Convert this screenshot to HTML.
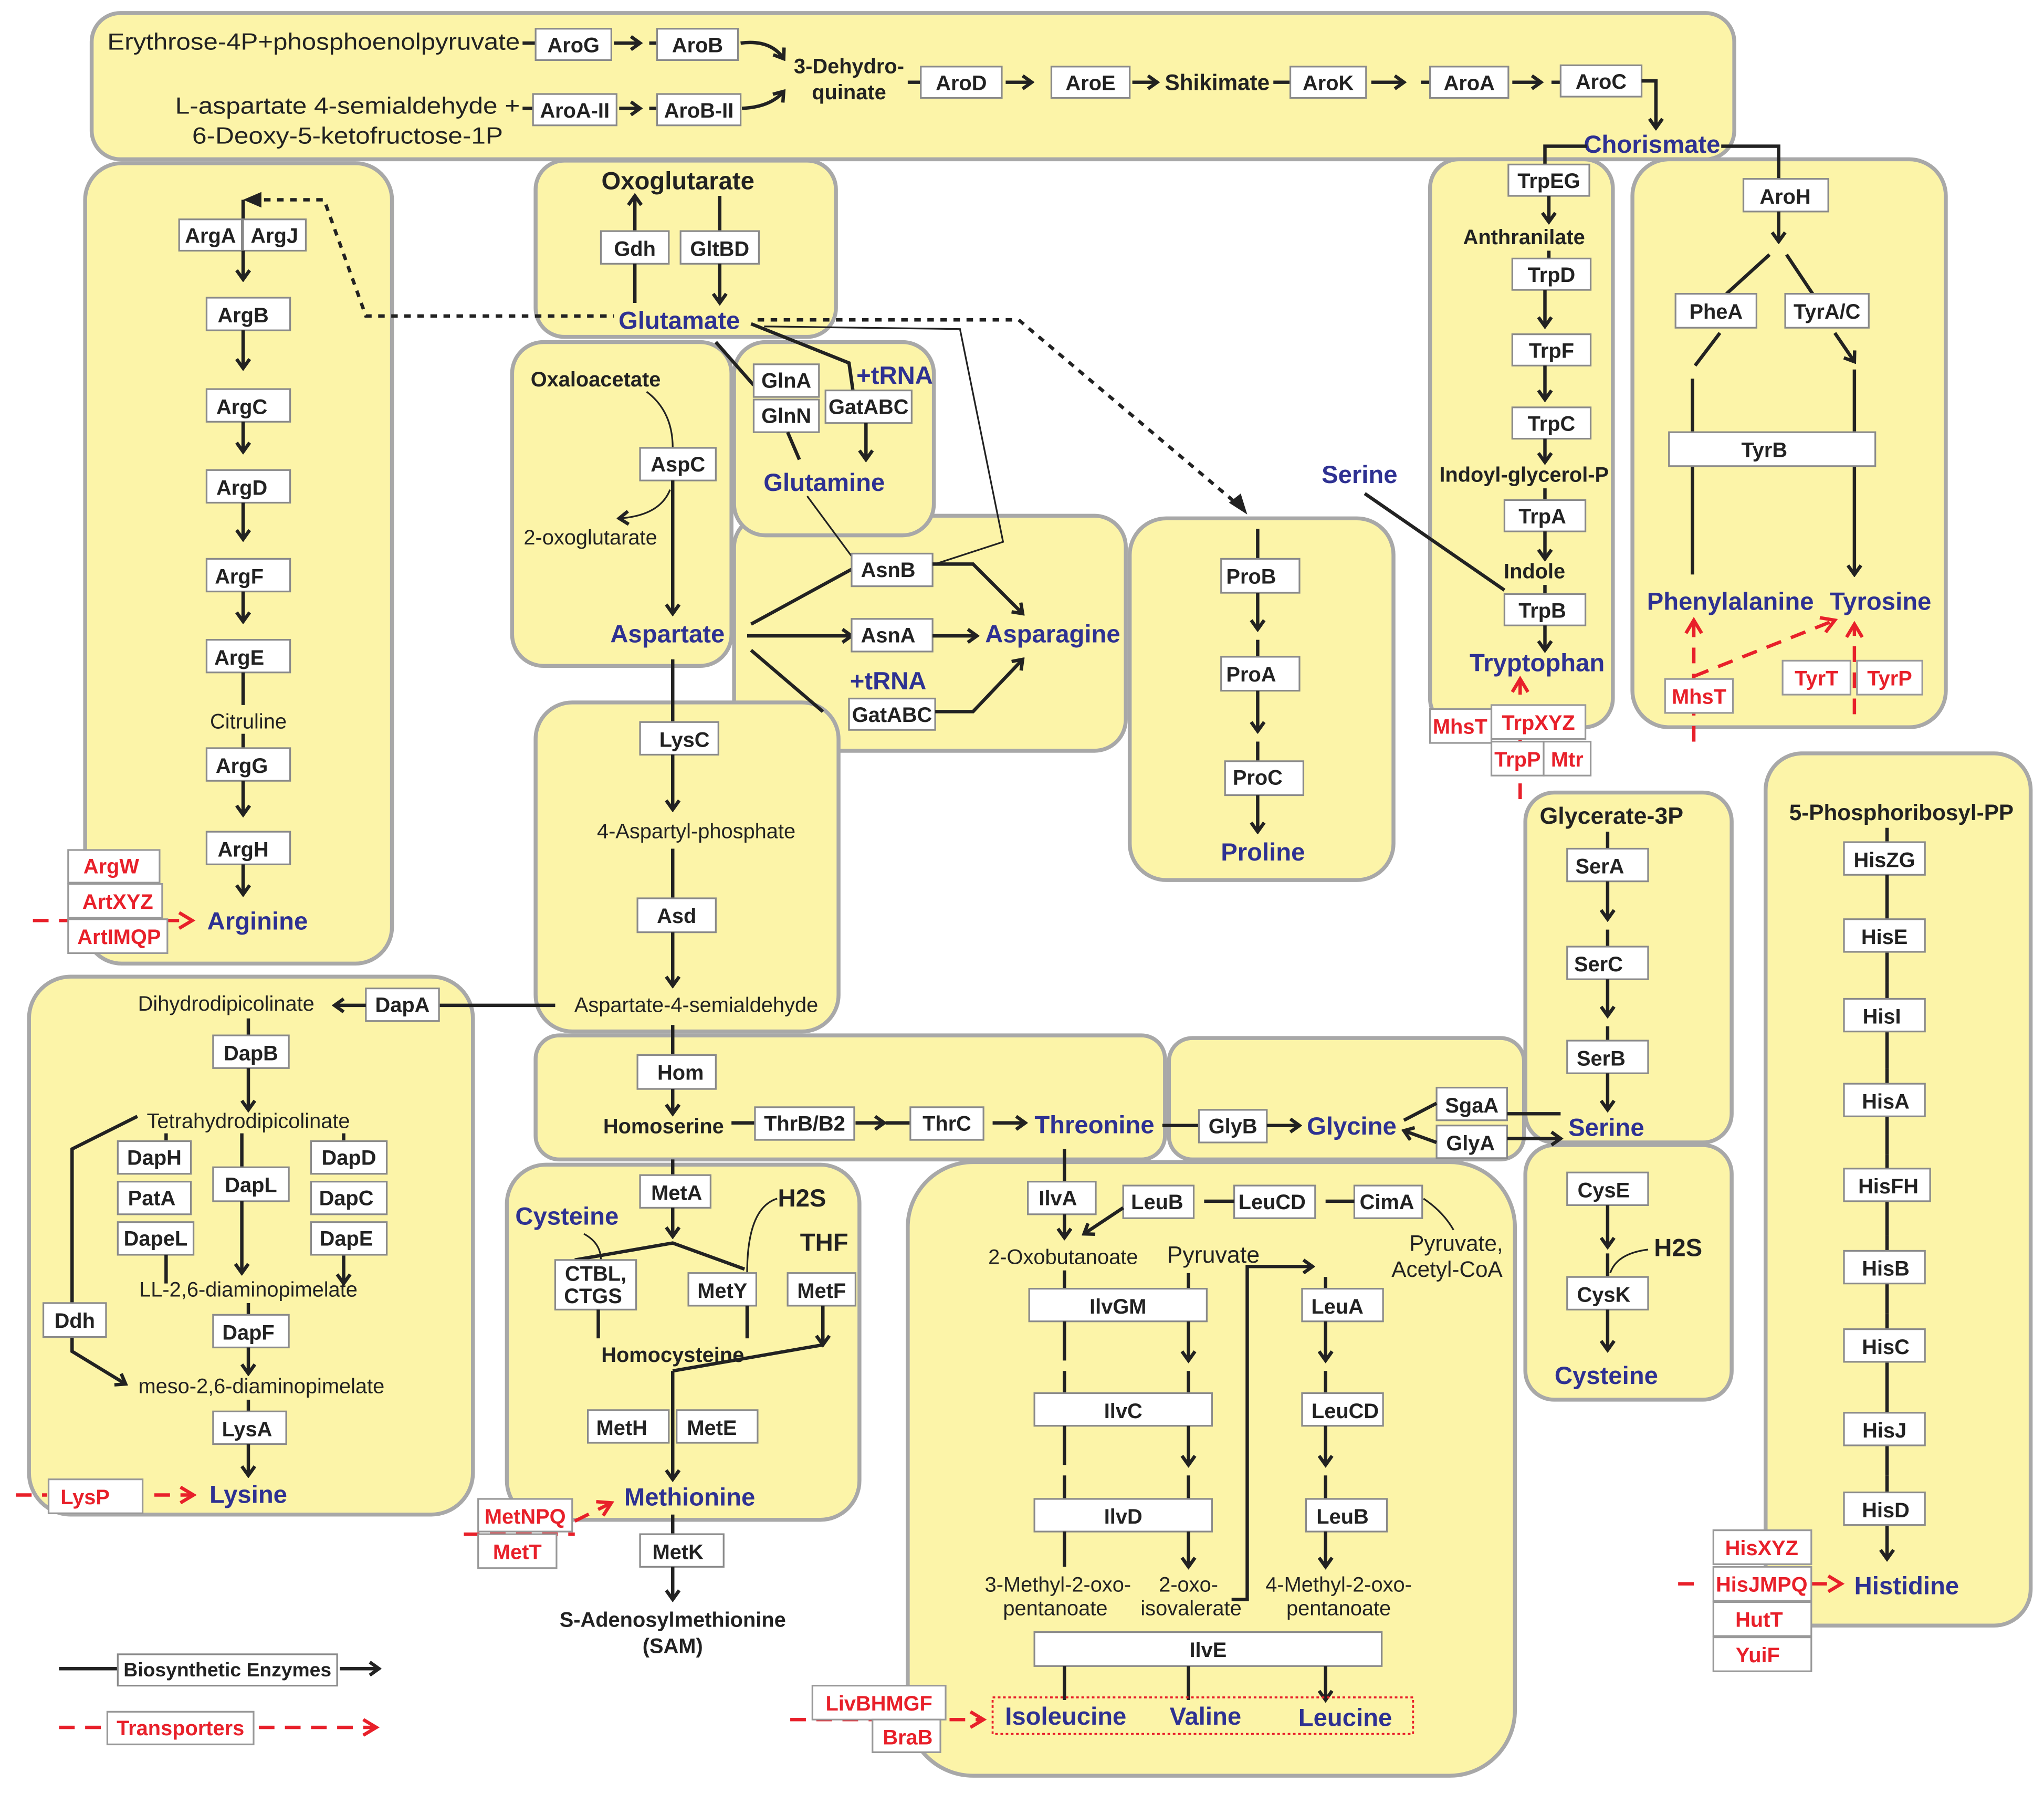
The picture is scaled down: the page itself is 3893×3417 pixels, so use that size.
<!DOCTYPE html>
<html><head><meta charset="utf-8"><style>
html,body{margin:0;padding:0;background:#fff;}
svg{display:block;}
.p{fill:#fcf4a8;stroke:#a8a8a8;stroke-width:3;}
.bx{fill:#fff;stroke:#8a8a8a;stroke-width:1.3;}
.rb{fill:#fff;stroke:#999;stroke-width:1.3;}
text{font-family:"Liberation Sans",sans-serif;}
.t{font-size:16px;font-weight:bold;text-anchor:middle;fill:#222;}
.r{font-size:16px;font-weight:bold;text-anchor:middle;fill:#e8202a;}
.n{font-size:16px;fill:#222;text-anchor:middle;}
.nb{font-size:17px;font-weight:bold;fill:#222;text-anchor:middle;}
.bl{font-size:19px;font-weight:bold;fill:#2e3192;text-anchor:middle;}
.l{stroke:#222;stroke-width:2.6;fill:none;}
.la{stroke:#222;stroke-width:2.6;fill:none;marker-end:url(#a);}
.th{stroke:#222;stroke-width:1.3;fill:none;}
.tha{stroke:#222;stroke-width:1.3;fill:none;marker-end:url(#a);}
.rd{stroke:#e8202a;stroke-width:2.6;fill:none;stroke-dasharray:12,8;}
.rda{stroke:#e8202a;stroke-width:2.6;fill:none;stroke-dasharray:12,8;marker-end:url(#ra);}
.dt{stroke:#222;stroke-width:2.6;fill:none;stroke-dasharray:5,5;}
</style></head><body>
<svg width="3893" height="3417" viewBox="0 0 1565 1374" xmlns="http://www.w3.org/2000/svg">
<defs>
<marker id="a" markerWidth="10" markerHeight="12" refX="8" refY="6" orient="auto" markerUnits="userSpaceOnUse"><path d="M1,1 L8,6 L1,11" fill="none" stroke="#222" stroke-width="2.6"/></marker>
<marker id="ra" markerWidth="14" markerHeight="14" refX="11" refY="7" orient="auto" markerUnits="userSpaceOnUse"><path d="M1,1 L11,7 L1,13" fill="none" stroke="#e8202a" stroke-width="2.6"/></marker>
</defs>
<rect width="1565" height="1374" fill="#fff"/>
<!-- panels -->
<rect class="p" x="70" y="10" width="1258" height="112" rx="22"/>
<rect class="p" x="65" y="125" width="235" height="613" rx="28"/>
<rect class="p" x="410" y="123" width="230" height="135" rx="22"/>
<rect class="p" x="392" y="262" width="168" height="248" rx="24"/>
<rect class="p" x="562" y="395" width="300" height="180" rx="24"/>
<rect class="p" x="562" y="262" width="153" height="148" rx="24"/>
<rect class="p" x="410" y="538" width="232" height="252" rx="28"/>
<rect class="p" x="22" y="748" width="340" height="412" rx="32"/>
<rect class="p" x="410" y="793" width="482" height="95" rx="18"/>
<rect class="p" x="895" y="795" width="272" height="93" rx="18"/>
<rect class="p" x="388" y="892" width="270" height="272" rx="30"/>
<rect class="p" x="695" y="890" width="465" height="470" rx="50"/>
<rect class="p" x="865" y="397" width="202" height="277" rx="28"/>
<rect class="p" x="1095" y="122" width="140" height="435" rx="22"/>
<rect class="p" x="1250" y="122" width="240" height="435" rx="28"/>
<rect class="p" x="1168" y="607" width="158" height="268" rx="22"/>
<rect class="p" x="1168" y="877" width="158" height="195" rx="22"/>
<rect class="p" x="1352" y="577" width="203" height="668" rx="28"/>

<!-- TOP -->
<text x="82" y="38" textLength="316" lengthAdjust="spacingAndGlyphs" style="font-size:18px;fill:#222">Erythrose-4P+phosphoenolpyruvate</text>
<text x="134" y="87" textLength="264" lengthAdjust="spacingAndGlyphs" style="font-size:18px;fill:#222">L-aspartate 4-semialdehyde +</text>
<text x="147" y="110" textLength="238" lengthAdjust="spacingAndGlyphs" style="font-size:18px;fill:#222">6-Deoxy-5-ketofructose-1P</text>
<path class="l" d="M400,33 H410 M400,83 H408 M497,33 H503 M497,83 H503 M695,63 H705 M975,63 H988 M1088,63 H1095 M1188,63 H1195"/>
<g><rect class="bx" x="410" y="22" width="58" height="24"/><text class="t" x="439" y="40">AroG</text></g>
<path class="la" d="M470,33 H490"/>
<g><rect class="bx" x="503" y="22" width="62" height="24"/><text class="t" x="534" y="40">AroB</text></g>
<path class="la" d="M567,33 Q590,30 600,45"/>
<g><rect class="bx" x="408" y="72" width="64" height="24"/><text class="t" x="440" y="90">AroA-II</text></g>
<path class="la" d="M474,83 H490"/>
<g><rect class="bx" x="503" y="72" width="64" height="24"/><text class="t" x="535" y="90">AroB-II</text></g>
<path class="la" d="M568,83 Q590,82 600,70"/>
<text class="nb" x="650" y="56" style="font-size:16px">3-Dehydro-</text>
<text class="nb" x="650" y="76" style="font-size:16px">quinate</text>
<g><rect class="bx" x="705" y="51" width="62" height="24"/><text class="t" x="736" y="69">AroD</text></g>
<path class="la" d="M770,63 H790"/>
<g><rect class="bx" x="805" y="51" width="60" height="24"/><text class="t" x="835" y="69">AroE</text></g>
<path class="la" d="M867,63 H886"/>
<text class="nb" x="932" y="69">Shikimate</text>
<g><rect class="bx" x="988" y="51" width="58" height="24"/><text class="t" x="1017" y="69">AroK</text></g>
<path class="la" d="M1050,63 H1075"/>
<g><rect class="bx" x="1095" y="51" width="60" height="24"/><text class="t" x="1125" y="69">AroA</text></g>
<path class="la" d="M1158,63 H1180"/>
<g><rect class="bx" x="1195" y="50" width="62" height="24"/><text class="t" x="1226" y="68">AroC</text></g>
<path class="la" d="M1257,62 H1268 V98"/>
<text class="bl" x="1265" y="117">Chorismate</text>
<path class="l" d="M1215,112 H1183 V126 M1318,112 H1362 V137"/>

<!-- Trp -->
<g><rect class="bx" x="1155" y="126" width="62" height="24"/><text class="t" x="1186" y="144">TrpEG</text></g>
<path class="la" d="M1186,150 V170"/>
<text class="nb" x="1167" y="187" style="font-size:16px">Anthranilate</text>
<path class="l" d="M1186,192 V198"/>
<g><rect class="bx" x="1158" y="198" width="60" height="24"/><text class="t" x="1188" y="216">TrpD</text></g>
<path class="la" d="M1183,222 V250"/>
<g><rect class="bx" x="1158" y="256" width="60" height="24"/><text class="t" x="1188" y="274">TrpF</text></g>
<path class="la" d="M1183,280 V306"/>
<g><rect class="bx" x="1158" y="312" width="60" height="24"/><text class="t" x="1188" y="330">TrpC</text></g>
<path class="la" d="M1183,336 V354"/>
<text class="nb" x="1167" y="369" style="font-size:16px">Indoyl-glycerol-P</text>
<path class="l" d="M1183,374 V383"/>
<g><rect class="bx" x="1152" y="383" width="62" height="24"/><text class="t" x="1181" y="401">TrpA</text></g>
<path class="la" d="M1183,407 V428"/>
<text class="nb" x="1175" y="443" style="font-size:16px">Indole</text>
<path class="l" d="M1183,448 V455"/>
<g><rect class="bx" x="1152" y="455" width="62" height="24"/><text class="t" x="1181" y="473">TrpB</text></g>
<path class="la" d="M1183,479 V498"/>
<text class="bl" x="1177" y="514">Tryptophan</text>
<text class="bl" x="1041" y="370">Serine</text>
<path class="l" d="M1045,378 L1152,452"/>
<path class="rda" d="M1164,612 V520"/>
<g><rect class="rb" x="1095" y="543" width="47" height="26"/><text class="r" x="1118" y="562">MhsT</text></g>
<g><rect class="rb" x="1142" y="540" width="72" height="26"/><text class="r" x="1178" y="559">TrpXYZ</text></g>
<g><rect class="rb" x="1142" y="568" width="40" height="26"/><text class="r" x="1162" y="587">TrpP</text></g>
<g><rect class="rb" x="1182" y="568" width="36" height="26"/><text class="r" x="1200" y="587">Mtr</text></g>

<!-- Phe/Tyr -->
<g><rect class="bx" x="1335" y="137" width="65" height="25"/><text class="t" x="1367" y="156">AroH</text></g>
<path class="la" d="M1362,162 V185"/>
<path class="l" d="M1355,195 L1322,225 M1368,195 L1388,225"/>
<g><rect class="bx" x="1283" y="225" width="62" height="26"/><text class="t" x="1314" y="244">PheA</text></g>
<g><rect class="bx" x="1367" y="225" width="64" height="26"/><text class="t" x="1399" y="244">TyrA/C</text></g>
<path class="la" d="M1317,255 L1298,280 M1405,255 L1420,277"/>
<path class="la" d="M1296,290 V440 M1420,283 V440"/>
<g><rect class="bx" x="1278" y="331" width="158" height="26"/><text class="t" x="1351" y="350">TyrB</text></g>
<text class="bl" x="1325" y="467">Phenylalanine</text>
<text class="bl" x="1440" y="467">Tyrosine</text>
<path class="rda" d="M1297,568 V475"/>
<path class="rda" d="M1297,518 L1405,475"/>
<path class="rda" d="M1420,547 V478"/>
<g><rect class="rb" x="1275" y="520" width="52" height="26"/><text class="r" x="1301" y="539">MhsT</text></g>
<g><rect class="rb" x="1365" y="506" width="52" height="26"/><text class="r" x="1391" y="525">TyrT</text></g>
<g><rect class="rb" x="1422" y="506" width="50" height="26"/><text class="r" x="1447" y="525">TyrP</text></g>

<!-- Arginine -->
<path class="dt" d="M192,153 H248 L280,242 H470"/>
<path d="M186,153 L200,147 L200,159 z" fill="#222"/>
<path class="l" d="M186,153 V168"/>
<g><rect class="bx" x="137" y="168" width="48" height="24"/><text class="t" x="161" y="186">ArgA</text></g>
<g><rect class="bx" x="186" y="168" width="48" height="24"/><text class="t" x="210" y="186">ArgJ</text></g>
<path class="la" d="M186,192 V214"/>
<g><rect class="bx" x="158" y="228" width="64" height="25"/><text class="t" x="186" y="247">ArgB</text></g>
<path class="la" d="M186,253 V282"/>
<g><rect class="bx" x="158" y="298" width="64" height="25"/><text class="t" x="185" y="317">ArgC</text></g>
<path class="la" d="M186,323 V346"/>
<g><rect class="bx" x="158" y="360" width="64" height="25"/><text class="t" x="185" y="379">ArgD</text></g>
<path class="la" d="M186,385 V413"/>
<g><rect class="bx" x="158" y="428" width="64" height="25"/><text class="t" x="183" y="447">ArgF</text></g>
<path class="la" d="M186,453 V476"/>
<g><rect class="bx" x="158" y="490" width="64" height="25"/><text class="t" x="183" y="509">ArgE</text></g>
<path class="l" d="M186,515 V540 M186,562 V573"/>
<text class="n" x="190" y="558">Citruline</text>
<g><rect class="bx" x="158" y="573" width="64" height="25"/><text class="t" x="185" y="592">ArgG</text></g>
<path class="la" d="M186,598 V624"/>
<g><rect class="bx" x="158" y="637" width="64" height="25"/><text class="t" x="186" y="656">ArgH</text></g>
<path class="la" d="M186,662 V685"/>
<text class="bl" x="197" y="712">Arginine</text>
<path class="rda" d="M25,705 H147"/>
<g><rect class="rb" x="52" y="651" width="70" height="25"/><text class="r" x="85" y="669">ArgW</text></g>
<g><rect class="rb" x="52" y="677" width="72" height="26"/><text class="r" x="90" y="696">ArtXYZ</text></g>
<g><rect class="rb" x="52" y="704" width="76" height="26"/><text class="r" x="91" y="723">ArtIMQP</text></g>

<!-- Oxoglutarate / glutamate -->
<text class="nb" x="519" y="145" style="font-size:19px">Oxoglutarate</text>
<path class="la" d="M486,177 V150"/>
<path class="l" d="M551,150 V177"/>
<g><rect class="bx" x="460" y="177" width="52" height="25"/><text class="t" x="486" y="196">Gdh</text></g>
<g><rect class="bx" x="521" y="177" width="60" height="25"/><text class="t" x="551" y="196">GltBD</text></g>
<path class="la" d="M486,202 V232 M551,202 V232"/>
<text class="bl" x="520" y="252">Glutamate</text>
<path class="dt" d="M580,245 H780 L952,390"/>
<path d="M955,394 L941,385 L950,378 z" fill="#222"/>
<path class="th" d="M585,250 L735,252 L768,415 L716,432"/>

<!-- Aspartate panel -->
<text class="nb" x="456" y="296" style="font-size:16px">Oxaloacetate</text>
<path class="th" d="M495,300 Q515,315 515,343"/>
<g><rect class="bx" x="490" y="343" width="58" height="25"/><text class="t" x="519" y="361">AspC</text></g>
<path class="la" d="M515,368 V470"/>
<path class="tha" d="M513,375 Q505,395 474,397"/>
<text class="n" x="452" y="417">2-oxoglutarate</text>
<text class="bl" x="511" y="492">Aspartate</text>

<!-- Glutamine -->
<path class="l" d="M548,262 L577,295"/>
<path class="l" d="M575,248 L650,278 L653,299"/>
<g><rect class="bx" x="577" y="279" width="50" height="25"/><text class="t" x="602" y="297">GlnA</text></g>
<g><rect class="bx" x="577" y="306" width="50" height="25"/><text class="t" x="602" y="324">GlnN</text></g>
<g><rect class="bx" x="632" y="299" width="66" height="25"/><text class="t" x="665" y="317">GatABC</text></g>
<text class="bl" x="685" y="294">+tRNA</text>
<path class="la" d="M603,331 L612,352 M663,324 V352"/>
<text class="bl" x="631" y="376">Glutamine</text>
<path class="th" d="M618,380 L652,426"/>

<!-- Asparagine -->
<path class="l" d="M575,478 L652,436 M575,498 L630,545"/>
<g><rect class="bx" x="652" y="424" width="62" height="25"/><text class="t" x="680" y="442">AsnB</text></g>
<path class="la" d="M572,487 H652"/>
<g><rect class="bx" x="652" y="474" width="62" height="25"/><text class="t" x="680" y="492">AsnA</text></g>
<path class="la" d="M714,487 H748"/>
<text class="bl" x="680" y="528">+tRNA</text>
<g><rect class="bx" x="650" y="535" width="66" height="24"/><text class="t" x="683" y="553">GatABC</text></g>
<path class="la" d="M714,432 H745 L783,470"/>
<path class="la" d="M716,545 H745 L783,505"/>
<text class="bl" x="806" y="492">Asparagine</text>

<!-- Lysine / Asp -->
<path class="l" d="M515,505 V553"/>
<g><rect class="bx" x="490" y="553" width="60" height="25"/><text class="t" x="524" y="572">LysC</text></g>
<path class="la" d="M515,578 V620"/>
<text class="n" x="533" y="642">4-Aspartyl-phosphate</text>
<path class="l" d="M515,650 V688"/>
<g><rect class="bx" x="488" y="688" width="60" height="26"/><text class="t" x="518" y="707">Asd</text></g>
<path class="la" d="M515,714 V755"/>
<text class="n" x="533" y="775">Aspartate-4-semialdehyde</text>
<path class="l" d="M425,770 H336"/>
<g><rect class="bx" x="280" y="757" width="56" height="25"/><text class="t" x="308" y="775">DapA</text></g>
<path class="la" d="M280,770 H256"/>
<text class="n" x="173" y="774">Dihydrodipicolinate</text>
<path class="l" d="M190,780 V793"/>
<g><rect class="bx" x="163" y="793" width="58" height="25"/><text class="t" x="192" y="812">DapB</text></g>
<path class="la" d="M190,818 V850"/>
<text class="n" x="190" y="864">Tetrahydrodipicolinate</text>
<path class="l" d="M127,868 V874 M263,868 V874"/>
<g><rect class="bx" x="90" y="874" width="56" height="25"/><text class="t" x="118" y="892">DapH</text></g>
<g><rect class="bx" x="90" y="905" width="56" height="25"/><text class="t" x="116" y="923">PatA</text></g>
<g><rect class="bx" x="90" y="936" width="58" height="25"/><text class="t" x="119" y="954">DapeL</text></g>
<path class="la" d="M127,961 V983 M263,961 V983"/>
<path class="l" d="M185,868 V894"/>
<g><rect class="bx" x="163" y="894" width="58" height="26"/><text class="t" x="192" y="913">DapL</text></g>
<path class="la" d="M185,920 V975"/>
<g><rect class="bx" x="238" y="874" width="58" height="25"/><text class="t" x="267" y="892">DapD</text></g>
<g><rect class="bx" x="238" y="905" width="58" height="25"/><text class="t" x="265" y="923">DapC</text></g>
<g><rect class="bx" x="238" y="936" width="58" height="25"/><text class="t" x="265" y="954">DapE</text></g>
<text class="n" x="190" y="993">LL-2,6-diaminopimelate</text>
<path class="l" d="M190,998 V1007"/>
<g><rect class="bx" x="163" y="1007" width="58" height="25"/><text class="t" x="190" y="1026">DapF</text></g>
<path class="la" d="M190,1032 V1052"/>
<text class="n" x="200" y="1067">meso-2,6-diaminopimelate</text>
<path class="l" d="M190,1072 V1081"/>
<g><rect class="bx" x="163" y="1081" width="56" height="25"/><text class="t" x="189" y="1100">LysA</text></g>
<path class="la" d="M190,1106 V1130"/>
<text class="bl" x="190" y="1151">Lysine</text>
<path class="la" d="M105,855 L55,880 V1035 L96,1060"/>
<g><rect class="bx" x="33" y="998" width="48" height="26"/><text class="t" x="57" y="1017">Ddh</text></g>
<path class="rd" d="M12,1145 H36"/>
<path class="rda" d="M118,1145 H148"/>
<g><rect class="rb" x="37" y="1133" width="72" height="26"/><text class="r" x="65" y="1152">LysP</text></g>

<!-- Threonine -->
<path class="l" d="M515,785 V808"/>
<g><rect class="bx" x="488" y="808" width="60" height="26"/><text class="t" x="521" y="827">Hom</text></g>
<path class="la" d="M515,834 V853"/>
<text class="nb" x="508" y="868" style="font-size:16px">Homoserine</text>
<path class="l" d="M560,860 H578 M678,860 H697"/>
<g><rect class="bx" x="578" y="848" width="76" height="25"/><text class="t" x="616" y="866">ThrB/B2</text></g>
<path class="la" d="M655,860 H677"/>
<g><rect class="bx" x="697" y="848" width="56" height="25"/><text class="t" x="725" y="866">ThrC</text></g>
<path class="la" d="M760,860 H785"/>
<text class="bl" x="838" y="868">Threonine</text>
<path class="l" d="M890,862 H918"/>
<g><rect class="bx" x="918" y="850" width="52" height="25"/><text class="t" x="944" y="868">GlyB</text></g>
<path class="la" d="M970,862 H995"/>
<text class="bl" x="1035" y="869">Glycine</text>
<g><rect class="bx" x="1100" y="833" width="54" height="25"/><text class="t" x="1127" y="852">SgaA</text></g>
<g><rect class="bx" x="1100" y="862" width="54" height="25"/><text class="t" x="1126" y="881">GlyA</text></g>
<path class="la" d="M1100,845 L1075,858 M1100,875 L1075,866"/>
<path class="l" d="M1154,853 H1195"/>
<path class="la" d="M1154,872 H1195"/>
<text class="bl" x="1230" y="870">Serine</text>

<!-- Methionine -->
<path class="l" d="M515,888 V900"/>
<g><rect class="bx" x="490" y="900" width="54" height="25"/><text class="t" x="518" y="919">MetA</text></g>
<path class="la" d="M515,925 V947"/>
<text class="bl" x="434" y="938">Cysteine</text>
<text class="nb" x="614" y="924" style="font-size:19px">H2S</text>
<text class="nb" x="631" y="958" style="font-size:19px">THF</text>
<path class="th" d="M447,945 Q460,952 460,965"/>
<path class="l" d="M440,965 L515,952 L570,972"/>
<path class="th" d="M595,918 Q572,925 572,975"/>
<g><rect class="bx" x="425" y="965" width="62" height="38"/><text class="t" x="456" y="981">CTBL,</text><text class="t" x="454" y="998">CTGS</text></g>
<g><rect class="bx" x="527" y="975" width="52" height="25"/><text class="t" x="553" y="994">MetY</text></g>
<g><rect class="bx" x="603" y="975" width="52" height="25"/><text class="t" x="629" y="994">MetF</text></g>
<path class="la" d="M458,1003 V1025 M572,1000 V1025 M630,1000 V1030"/>
<text class="nb" x="515" y="1043" style="font-size:16px">Homocysteine</text>
<path class="l" d="M515,1050 L630,1030"/>
<g><rect class="bx" x="450" y="1080" width="62" height="25"/><text class="t" x="476" y="1099">MetH</text></g>
<g><rect class="bx" x="518" y="1080" width="62" height="25"/><text class="t" x="545" y="1099">MetE</text></g>
<path class="la" d="M515,1050 V1133"/>
<text class="bl" x="528" y="1153">Methionine</text>
<path class="rd" d="M355,1175 H440"/>
<path class="rda" d="M440,1165 L468,1151"/>
<g><rect class="rb" x="366" y="1148" width="72" height="25"/><text class="r" x="402" y="1167">MetNPQ</text></g>
<g><rect class="rb" x="366" y="1175" width="60" height="26"/><text class="r" x="396" y="1194">MetT</text></g>
<path class="l" d="M515,1160 V1175"/>
<g><rect class="bx" x="490" y="1175" width="64" height="25"/><text class="t" x="519" y="1194">MetK</text></g>
<path class="la" d="M515,1200 V1225"/>
<text class="nb" x="515" y="1246" style="font-size:16px">S-Adenosylmethionine</text>
<text class="nb" x="515" y="1266" style="font-size:16px">(SAM)</text>

<!-- Ile Val Leu -->
<path class="l" d="M815,880 V905"/>
<g><rect class="bx" x="787" y="905" width="52" height="25"/><text class="t" x="810" y="923">IlvA</text></g>
<path class="la" d="M815,930 V948"/>
<g><rect class="bx" x="860" y="908" width="54" height="25"/><text class="t" x="886" y="926">LeuB</text></g>
<g><rect class="bx" x="945" y="908" width="62" height="25"/><text class="t" x="974" y="926">LeuCD</text></g>
<g><rect class="bx" x="1037" y="908" width="52" height="25"/><text class="t" x="1062" y="926">CimA</text></g>
<path class="la" d="M1037,920 H1015 M945,920 H922 M860,925 L830,945"/>
<path class="th" d="M1090,918 Q1105,928 1113,942"/>
<text class="n" x="1115" y="958" style="font-size:17px">Pyruvate,</text>
<text class="n" x="1108" y="978" style="font-size:17px">Acetyl-CoA</text>
<text class="n" x="814" y="968">2-Oxobutanoate</text>
<text class="n" x="929" y="967" style="font-size:18px">Pyruvate</text>
<path class="l" d="M910,975 V987 M815,973 V987"/>
<g><rect class="bx" x="788" y="987" width="136" height="25"/><text class="t" x="856" y="1006">IlvGM</text></g>
<path class="la" d="M815,1012 V1042 M910,1012 V1042"/>
<path class="l" d="M815,1050 V1067 M910,1050 V1067"/>
<g><rect class="bx" x="792" y="1067" width="136" height="25"/><text class="t" x="860" y="1086">IlvC</text></g>
<path class="la" d="M815,1092 V1122 M910,1092 V1122"/>
<path class="l" d="M815,1130 V1148 M910,1130 V1148"/>
<g><rect class="bx" x="792" y="1148" width="136" height="25"/><text class="t" x="860" y="1167">IlvD</text></g>
<path class="la" d="M815,1173 V1200 M910,1173 V1200"/>
<path class="la" d="M943,1225 H955 V970 H1005"/>
<path class="l" d="M1015,978 V987"/>
<g><rect class="bx" x="997" y="987" width="62" height="25"/><text class="t" x="1024" y="1006">LeuA</text></g>
<path class="la" d="M1015,1012 V1042"/>
<path class="l" d="M1015,1050 V1067"/>
<g><rect class="bx" x="997" y="1067" width="62" height="25"/><text class="t" x="1030" y="1086">LeuCD</text></g>
<path class="la" d="M1015,1092 V1122"/>
<path class="l" d="M1015,1130 V1148"/>
<g><rect class="bx" x="1000" y="1148" width="62" height="25"/><text class="t" x="1028" y="1167">LeuB</text></g>
<path class="la" d="M1015,1173 V1200"/>
<text class="n" x="810" y="1219">3-Methyl-2-oxo-</text>
<text class="n" x="808" y="1237">pentanoate</text>
<text class="n" x="910" y="1219">2-oxo-</text>
<text class="n" x="912" y="1237">isovalerate</text>
<text class="n" x="1025" y="1219">4-Methyl-2-oxo-</text>
<text class="n" x="1025" y="1237">pentanoate</text>
<g><rect class="bx" x="792" y="1250" width="266" height="26"/><text class="t" x="925" y="1269">IlvE</text></g>
<path class="la" d="M815,1276 V1302 M910,1276 V1302 M1015,1276 V1302"/>
<rect x="760" y="1300" width="322" height="28" fill="none" stroke="#e8202a" stroke-width="1.5" stroke-dasharray="2,2"/>
<text class="bl" x="816" y="1321">Isoleucine</text>
<text class="bl" x="923" y="1321">Valine</text>
<text class="bl" x="1030" y="1322">Leucine</text>
<path class="rd" d="M605,1317 H668"/>
<path class="rda" d="M727,1317 H753"/>
<g><rect class="rb" x="622" y="1291" width="102" height="26"/><text class="r" x="673" y="1310">LivBHMGF</text></g>
<g><rect class="rb" x="668" y="1317" width="52" height="25"/><text class="r" x="695" y="1336">BraB</text></g>

<!-- Proline -->
<path class="l" d="M963,405 V428"/>
<g><rect class="bx" x="935" y="428" width="60" height="26"/><text class="t" x="958" y="447">ProB</text></g>
<path class="la" d="M963,454 V482"/>
<path class="l" d="M963,490 V503"/>
<g><rect class="bx" x="935" y="503" width="60" height="26"/><text class="t" x="958" y="522">ProA</text></g>
<path class="la" d="M963,529 V560"/>
<path class="l" d="M963,568 V583"/>
<g><rect class="bx" x="938" y="583" width="60" height="26"/><text class="t" x="963" y="601">ProC</text></g>
<path class="la" d="M963,609 V637"/>
<text class="bl" x="967" y="659">Proline</text>

<!-- Serine -->
<text class="nb" x="1234" y="631" style="font-size:18px">Glycerate-3P</text>
<path class="l" d="M1231,637 V650"/>
<g><rect class="bx" x="1200" y="650" width="62" height="25"/><text class="t" x="1225" y="669">SerA</text></g>
<path class="la" d="M1231,675 V704"/>
<path class="l" d="M1231,712 V725"/>
<g><rect class="bx" x="1200" y="725" width="62" height="25"/><text class="t" x="1224" y="744">SerC</text></g>
<path class="la" d="M1231,750 V778"/>
<path class="l" d="M1231,786 V797"/>
<g><rect class="bx" x="1200" y="797" width="62" height="25"/><text class="t" x="1226" y="816">SerB</text></g>
<path class="la" d="M1231,822 V850"/>

<!-- Cysteine -->
<g><rect class="bx" x="1200" y="898" width="62" height="25"/><text class="t" x="1228" y="917">CysE</text></g>
<path class="la" d="M1231,923 V955"/>
<path class="th" d="M1262,957 Q1238,960 1233,975"/>
<text class="nb" x="1285" y="962" style="font-size:19px">H2S</text>
<path class="l" d="M1231,960 V978"/>
<g><rect class="bx" x="1200" y="978" width="62" height="25"/><text class="t" x="1228" y="997">CysK</text></g>
<path class="la" d="M1231,1003 V1034"/>
<text class="bl" x="1230" y="1060">Cysteine</text>

<!-- Histidine -->
<text class="nb" x="1456" y="628" style="font-size:17px">5-Phosphoribosyl-PP</text>
<path class="l" d="M1445,634 V645"/>
<g><rect class="bx" x="1412" y="645" width="62" height="25"/><text class="t" x="1443" y="664">HisZG</text></g>
<path class="la" d="M1445,670 V690 M1445,729 V752 M1445,790 V818 M1445,855 V884 M1445,920 V946 M1445,983 V1006 M1445,1043 V1070 M1445,1107 V1130 M1445,1168 V1194"/>
<path class="l" d="M1445,690 V704 M1445,752 V765 M1445,818 V830 M1445,884 V895 M1445,946 V958 M1445,1006 V1018 M1445,1070 V1082 M1445,1130 V1143"/>
<g><rect class="bx" x="1412" y="704" width="62" height="25"/><text class="t" x="1443" y="723">HisE</text></g>
<g><rect class="bx" x="1412" y="765" width="62" height="25"/><text class="t" x="1441" y="784">HisI</text></g>
<g><rect class="bx" x="1412" y="830" width="62" height="25"/><text class="t" x="1444" y="849">HisA</text></g>
<g><rect class="bx" x="1412" y="895" width="66" height="25"/><text class="t" x="1446" y="914">HisFH</text></g>
<g><rect class="bx" x="1412" y="958" width="62" height="25"/><text class="t" x="1444" y="977">HisB</text></g>
<g><rect class="bx" x="1412" y="1018" width="62" height="25"/><text class="t" x="1444" y="1037">HisC</text></g>
<g><rect class="bx" x="1412" y="1082" width="62" height="25"/><text class="t" x="1443" y="1101">HisJ</text></g>
<g><rect class="bx" x="1412" y="1143" width="62" height="25"/><text class="t" x="1444" y="1162">HisD</text></g>
<text class="bl" x="1460" y="1221">Histidine</text>
<path class="rd" d="M1285,1213 H1305"/>
<path class="rda" d="M1387,1213 H1410"/>
<g><rect class="rb" x="1312" y="1172" width="75" height="26"/><text class="r" x="1349" y="1191">HisXYZ</text></g>
<g><rect class="rb" x="1312" y="1200" width="75" height="26"/><text class="r" x="1349" y="1219">HisJMPQ</text></g>
<g><rect class="rb" x="1312" y="1227" width="75" height="26"/><text class="r" x="1347" y="1246">HutT</text></g>
<g><rect class="rb" x="1312" y="1254" width="75" height="26"/><text class="r" x="1346" y="1273">YuiF</text></g>

<!-- Legend -->
<path class="l" d="M45,1278 H90"/>
<g><rect class="bx" x="90" y="1267" width="168" height="24"/><text class="t" x="174" y="1284" style="font-size:15px">Biosynthetic Enzymes</text></g>
<path class="la" d="M260,1278 H290"/>
<path class="rd" d="M45,1323 H80"/>
<g><rect class="rb" x="82" y="1311" width="112" height="25"/><text class="r" x="138" y="1329">Transporters</text></g>
<path class="rda" d="M198,1323 H288"/>
</svg>
</body></html>
